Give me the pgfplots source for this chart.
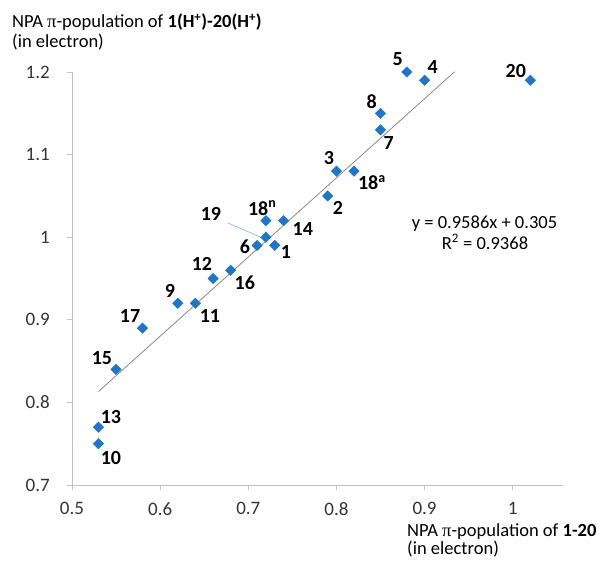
\documentclass[border=0pt]{standalone}
\usepackage{pgfplots}
\pgfplotsset{compat=1.18}
\usepackage{pgfplotstable}
\usepackage{fontspec}
\setmainfont{Carlito}
\newfontfamily\greekfont{Liberation Serif}

\definecolor{ptblue}{HTML}{2176C4}
\definecolor{axgrey}{HTML}{BFBFBF}
\definecolor{tickgrey}{HTML}{333333}
\definecolor{fitgrey}{HTML}{8A8A8A}
\definecolor{leader}{HTML}{7FB2E0}

% NPA pi-populations: neutral (x) vs protonated (y), compounds 1-20
\pgfplotstableread{
x     y
0.73  0.99
0.79  1.05
0.80  1.08
0.90  1.19
0.88  1.20
0.71  0.99
0.85  1.13
0.85  1.15
0.62  0.92
0.53  0.75
0.64  0.92
0.66  0.95
0.53  0.77
0.74  1.02
0.55  0.84
0.68  0.96
0.58  0.89
0.72  1.02
0.82  1.08
0.72  1.00
1.02  1.19
}\npadata

\newcommand{\pitxt}{{\greekfont π}}

\begin{document}
\begin{tikzpicture}[x=1pt,y=1pt,
  lbl/.style={font=\fontsize{20}{22}\selectfont\bfseries, inner sep=0pt,
              text height=12.6pt, text depth=0pt}]
\begin{axis}[
  at={(0,0)}, anchor=south west,
  scale only axis, width=491pt, height=413pt,
  xmin=0.5, xmax=1.057, ymin=0.7, ymax=1.2,
  axis x line=bottom, axis y line=left,
  axis line style={draw=axgrey, line width=0.9pt, -},
  xtick={0.5,0.6,0.7,0.8,0.9,1.0},
  ytick={0.7,0.8,0.9,1.0,1.1,1.2},
  tick style={draw=axgrey, line width=0.9pt},
  tick align=outside, major tick length=5pt,
  ticklabel style={font=\fontsize{19}{21}\selectfont, text=tickgrey},
  /pgf/number format/assume math mode=true,
  xticklabel style={inner sep=0pt, anchor=north, yshift=-12pt},
  yticklabel style={inner sep=0pt, anchor=east, xshift=-17pt},
  clip=false,
]
% linear fit y = 0.9586x + 0.305
\addplot[fitgrey, line width=0.8pt] coordinates {(0.53,0.8131) (0.934,1.2003)};
\addplot[only marks, mark=square*, mark size=3.7pt,
  mark options={rotate=45, fill=ptblue, draw=ptblue}]
  table[x=x, y=y] {\npadata};

\draw[leader, line width=0.6pt] (axis cs:0.6769,1.0172) -- (axis cs:0.7154,0.9995);

\node[lbl] at (axis cs:0.8696,1.2157) {5};
\node[lbl] at (axis cs:0.9093,1.2061) {4};
\node[lbl] at (axis cs:1.0034,1.2012) {20};
\node[lbl] at (axis cs:0.8401,1.1637) {8};
\node[lbl] at (axis cs:0.8594,1.1140) {7};
\node[lbl] at (axis cs:0.7914,1.0959) {3};
\node[lbl, anchor=west] at (axis cs:0.8243,1.0650) {18\textsuperscript{a}};
\node[lbl] at (axis cs:0.8016,1.0354) {2};
\node[lbl, anchor=west] at (axis cs:0.6995,1.0341) {18\textsuperscript{n}};
\node[lbl] at (axis cs:0.7619,1.0099) {14};
\node[lbl] at (axis cs:0.6576,1.0281) {19};
\node[lbl] at (axis cs:0.6961,0.9881) {6};
\node[lbl] at (axis cs:0.7426,0.9821) {1};
\node[lbl] at (axis cs:0.6474,0.9676) {12};
\node[lbl] at (axis cs:0.6961,0.9446) {16};
\node[lbl] at (axis cs:0.6111,0.9349) {9};
\node[lbl] at (axis cs:0.6565,0.9046) {11};
\node[lbl] at (axis cs:0.5658,0.9046) {17};
\node[lbl] at (axis cs:0.5340,0.8538) {15};
\node[lbl] at (axis cs:0.5442,0.7823) {13};
\node[lbl] at (axis cs:0.5442,0.7327) {10};
\end{axis}

% axis titles
\begin{scope}[every node/.style={font=\fontsize{18.5}{20}\selectfont, inner sep=0pt}]
\node[anchor=base west] at (-60,457) {NPA \pitxt-population of \textbf{1(H\textsuperscript{+})-20(H\textsuperscript{+})}};
\node[anchor=base west] at (-60,437) {(in electron)};
\node[anchor=base west] at (335,-51) {NPA \pitxt-population of \textbf{1-20}};
\node[anchor=base west] at (335,-69.5) {(in electron)};
\node[anchor=base] at (412.5,257) {y = 0.9586x + 0.305};
\node[anchor=base] at (413,236) {R\textsuperscript{2} = 0.9368};
\end{scope}

\pgfresetboundingbox
\path[use as bounding box] (-72,-75) rectangle (529,485);
\end{tikzpicture}
\end{document}
